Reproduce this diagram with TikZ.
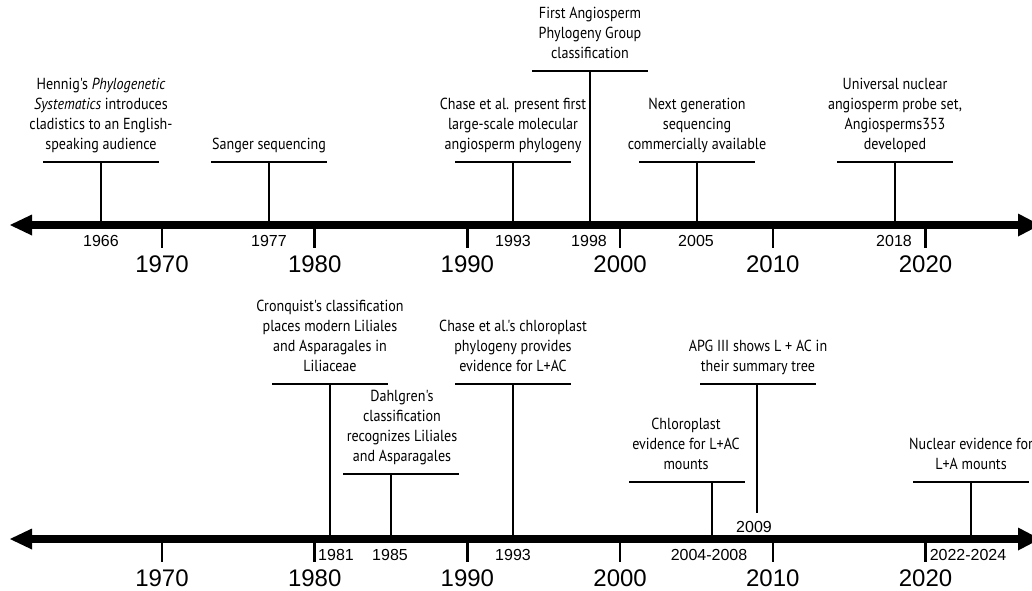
\documentclass[tikz,border=0pt]{standalone}
\usepackage{fontspec}
\newfontfamily\evfont[FakeStretch=0.88]{PT Sans}
\newfontfamily\yrfont{Liberation Sans}
\begin{document}
\begin{tikzpicture}[x=1pt,y=-1pt,
  axisline/.style={line width=7.5pt},
  arrowhead/.style={fill=black},
  decadetick/.style={line width=2.5pt},
  stemline/.style={line width=2pt},
  barline/.style={line width=2pt},
  evtext/.style={font=\evfont\fontsize{16}{20}\selectfont, align=center, anchor=south, inner sep=0pt, execute at end node=\strut},
  smallyear/.style={font=\yrfont\fontsize{16}{19}\selectfont, anchor=base, inner sep=0pt},
  bigyear/.style={font=\yrfont\fontsize{24}{28}\selectfont, anchor=base, inner sep=0pt},
]
\useasboundingbox (0,0) rectangle (1032,590);

% ---------------- top timeline ----------------
\coordinate (tL) at (30,225);
\coordinate (tR) at (1020,225);
\draw[axisline] (tL) -- (tR);
\fill[arrowhead] (10,225) -- (32,214.5) -- (32,235.5) -- cycle;
\fill[arrowhead] (1040,225) -- (1018,213.5) -- (1018,236.5) -- cycle;

\foreach \x/\y in {162/1970,314.7/1980,467.4/1990,620.1/2000,772.8/2010,925.5/2020}{
  \draw[decadetick] (\x,225) -- (\x,248);
  \node[bigyear] at (\x,272) {\y};
}

% Hennig 1966
\coordinate (a1) at (101,225);
\coordinate (b1) at (101,162);
\draw[barline] (43,162) -- (159,162);
\draw[stemline] (b1) -- (a1);
\node[evtext] (t1) at (101,156) {Hennig's \textit{Phylogenetic}\\\textit{Systematics} introduces\\cladistics to an English-\\speaking audience};
\node[smallyear] (y1) at (101,246) {1966};

% Sanger 1977
\coordinate (a2) at (269,225);
\coordinate (b2) at (269,162);
\draw[barline] (211,162) -- (327,162);
\draw[stemline] (b2) -- (a2);
\node[evtext] (t2) at (269,156) {Sanger sequencing};
\node[smallyear] (y2) at (269,246) {1977};

% Chase 1993
\coordinate (a3) at (513,225);
\coordinate (b3) at (513,162);
\draw[barline] (455,162) -- (571,162);
\draw[stemline] (b3) -- (a3);
\node[evtext] (t3) at (513,156) {Chase et al. present first\\large-scale molecular\\angiosperm phylogeny};
\node[smallyear] (y3) at (513,246) {1993};

% APG 1998
\coordinate (a4) at (590,225);
\coordinate (b4) at (590,71);
\draw[barline] (532,71) -- (648,71);
\draw[stemline] (b4) -- (a4);
\node[evtext] (t4) at (590,65) {First Angiosperm\\Phylogeny Group\\classification};
\node[smallyear] (y4) at (589,246) {1998};

% NGS 2005
\coordinate (a5) at (697,225);
\coordinate (b5) at (697,162);
\draw[barline] (639,162) -- (755,162);
\draw[stemline] (b5) -- (a5);
\node[evtext] (t5) at (697,156) {Next generation\\sequencing\\commercially available};
\node[smallyear] (y5) at (696,246) {2005};

% Angiosperms353 2018
\coordinate (a6) at (895,225);
\coordinate (b6) at (895,162);
\draw[barline] (837,162) -- (953,162);
\draw[stemline] (b6) -- (a6);
\node[evtext] (t6) at (895,156) {Universal nuclear\\angiosperm probe set,\\Angiosperms353\\developed};
\node[smallyear] (y6) at (894,246) {2018};

% ---------------- bottom timeline ----------------
\coordinate (uL) at (30,539);
\coordinate (uR) at (1020,539);
\draw[axisline] (uL) -- (uR);
\fill[arrowhead] (10,539) -- (32,528.5) -- (32,549.5) -- cycle;
\fill[arrowhead] (1040,539) -- (1018,527.5) -- (1018,550.5) -- cycle;

\foreach \x/\y in {162/1970,314.7/1980,467.4/1990,620.1/2000,772.8/2010,925.5/2020}{
  \draw[decadetick] (\x,539) -- (\x,562);
  \node[bigyear] at (\x,586) {\y};
}

% Cronquist 1981
\coordinate (c1) at (330,539);
\coordinate (d1) at (330,384);
\draw[barline] (272,384) -- (388,384);
\draw[stemline] (d1) -- (c1);
\node[evtext] (s1) at (330,378) {Cronquist's classification\\places modern Liliales\\and Asparagales in\\Liliaceae};
\node[smallyear] (z1) at (336,560) {1981};

% Dahlgren 1985
\coordinate (c2) at (391,539);
\coordinate (d2) at (391,474);
\draw[barline] (343,474) -- (459,474);
\draw[stemline] (d2) -- (c2);
\node[evtext] (s2) at (402,468) {Dahlgren's\\classification\\recognizes Liliales\\and Asparagales};
\node[smallyear] (z2) at (390,560) {1985};

% Chase chloroplast 1993
\coordinate (c3) at (513,539);
\coordinate (d3) at (513,384);
\draw[barline] (455,384) -- (571,384);
\draw[stemline] (d3) -- (c3);
\node[evtext] (s3) at (513,378) {Chase et al.'s chloroplast\\phylogeny provides\\evidence for L+AC};
\node[smallyear] (z3) at (513,560) {1993};

% Chloroplast evidence 2004-2008
\coordinate (c4) at (712,539);
\coordinate (d4) at (712,482);
\draw[barline] (629,482) -- (745,482);
\draw[stemline] (d4) -- (c4);
\node[evtext] (s4) at (686,476) {Chloroplast\\evidence for L+AC\\mounts};
\node[smallyear] (z4) at (709,560) {2004-2008};

% APG III 2009
\coordinate (c5) at (757,513);
\coordinate (d5) at (757,384);
\draw[barline] (700,384) -- (816,384);
\draw[stemline] (d5) -- (c5);
\node[evtext] (s5) at (758,378) {APG III shows L + AC in\\their summary tree};
\node[smallyear] (z5) at (754,532) {2009};

% Nuclear evidence 2022-2024
\coordinate (c6) at (971,539);
\coordinate (d6) at (971,482);
\draw[barline] (913,482) -- (1029,482);
\draw[stemline] (d6) -- (c6);
\node[evtext] (s6) at (971,476) {Nuclear evidence for\\L+A mounts};
\node[smallyear] (z6) at (968,560) {2022-2024};
\end{tikzpicture}
\end{document}
